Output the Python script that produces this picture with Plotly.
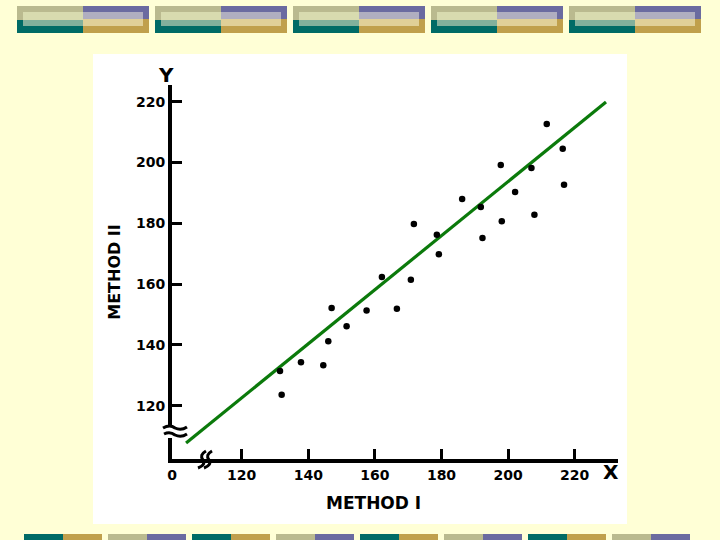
import plotly.graph_objects as go

# Data
method_1 = [132.0, 131.5, 137.8, 144.5, 146.0, 147.0, 151.5, 157.5, 162.1, 166.6, 170.8, 171.7, 179.2,
            178.6, 186.2, 191.8, 192.3, 198.1, 197.8, 202.1, 207.9, 207.0, 211.6, 216.4, 216.8]
method_2 = [123.6, 131.4, 134.3, 133.3, 141.2, 152.1, 146.1, 151.3, 162.3, 151.9, 161.4, 179.8, 169.8,
            176.2, 188.0, 185.4, 175.2, 180.7, 199.2, 190.3, 182.8, 198.2, 212.7, 204.5, 192.7]
fit_x = [103.3, 229.4]
fit_y = [107.7, 219.9]
x_ticks = [99.07, 120, 140, 160, 180, 200, 220]
x_tick_labels = ["0", "120", "140", "160", "180", "200", "220"]
y_ticks = [120, 140, 160, 180, 200, 220]
y_tick_labels = ["120", "140", "160", "180", "200", "220"]

# Plot frame in pixels
L, R, T, B = 172, 618, 85, 459
W, H = 720, 540
BG = "#FFFFD6"
KHAKI, PURPLE, TEAL, TAN = "#BABA8F", "#6B6BA0", "#006B66", "#C0A04C"


def px(x):
    return (x - L) / (R - L)


def py(y):
    return 1 - (y - T) / (B - T)


def rect(x0, y0, x1, y1, color, layer="below"):
    return dict(type="rect", xref="paper", yref="paper", x0=px(x0), x1=px(x1), y0=py(y0), y1=py(y1),
                fillcolor=color, line_width=0, layer=layer)


def curve(points, width=2.5):
    d = f"M {px(points[0][0]):.4f} {py(points[0][1]):.4f}"
    for i in range(1, len(points) - 1, 2):
        d += f" Q {px(points[i][0]):.4f} {py(points[i][1]):.4f} {px(points[i+1][0]):.4f} {py(points[i+1][1]):.4f}"
    return dict(type="path", xref="paper", yref="paper", path=d, line=dict(color="black", width=width),
                layer="above")


def label(text, x, y, size):
    return dict(text=text, xref="paper", yref="paper", x=px(x), y=py(y), showarrow=False,
                xanchor="center", yanchor="middle",
                font=dict(family="DejaVu Sans", size=size, color="black", weight="bold"))


shapes = [rect(93, 54, 627, 524, "#FFFFFF")]

# top banner
for i in range(5):
    o = 138 * i
    shapes += [
        rect(17 + o, 6, 83 + o, 20, KHAKI),
        rect(17 + o, 20, 83 + o, 33, TEAL),
        rect(83 + o, 6, 149 + o, 19, PURPLE),
        rect(83 + o, 19, 149 + o, 33, TAN),
        rect(23 + o, 12, 83 + o, 20, "#D8DBAF"),
        rect(23 + o, 20, 83 + o, 26, "#82B09C"),
        rect(83 + o, 12, 143 + o, 19, "#B0AEC0"),
        rect(83 + o, 19, 143 + o, 26, "#E0D098"),
    ]

# bottom banner
for i in range(8):
    a = 24 + 84 * i
    if i >= 4:
        a = 360 + 84 * (i - 4)
    c1, c2 = (TEAL, TAN) if i % 2 == 0 else (KHAKI, PURPLE)
    shapes += [rect(a, 534, a + 39, 540, c1), rect(a + 39, 534, a + 78, 540, c2)]

# axis breaks
shapes += [
    rect(165, 426, 184, 438, "#FFFFFF", "above"),
    curve([(163, 428), (170, 424), (175, 428), (181, 431), (187, 427)], 3),
    curve([(164, 434), (170, 431), (175, 435), (181, 438), (187, 434)], 3),
    curve([(206, 451), (199, 455), (203, 460), (206, 465), (198, 468)], 3),
    curve([(212, 451), (205, 455), (209, 460), (212, 465), (204, 468)], 3),
]

fig = go.Figure()
fig.add_trace(go.Scatter(x=fit_x, y=fit_y, mode="lines", line=dict(color="#0B7A0B", width=3.2),
                         hoverinfo="skip", showlegend=False))
fig.add_trace(go.Scatter(x=method_1, y=method_2, mode="markers",
                         marker=dict(color="black", size=6.5), showlegend=False))

tick_font = dict(family="DejaVu Sans", size=14, color="black", weight="bold")
fig.update_layout(
    width=W, height=H,
    margin=dict(l=L, r=W - R, t=T, b=H - B, pad=0),
    paper_bgcolor=BG, plot_bgcolor="rgba(0,0,0,0)",
    showlegend=False,
    shapes=shapes,
    annotations=[
        label("Y", 166, 75, 20),
        label("X", 611, 472, 20),
        label("METHOD I", 373, 503, 17),
    ],
    xaxis=dict(range=[99.07, 233.0], tickvals=x_ticks, ticktext=x_tick_labels, ticks="inside",
               ticklen=10, tickwidth=3, tickcolor="black", showline=True, linecolor="black", linewidth=4,
               showgrid=False, zeroline=False, tickfont=tick_font),
    yaxis=dict(range=[102.47, 225.49], tickvals=y_ticks, ticktext=y_tick_labels, ticks="inside",
               ticklen=10, tickwidth=3, tickcolor="black", showline=True, linecolor="black", linewidth=4,
               showgrid=False, zeroline=False, tickfont=tick_font,
               title=dict(text="METHOD II", standoff=12,
                          font=dict(family="DejaVu Sans", size=16, color="black", weight="bold"))),
)
fig.write_html("out.html", config={"displayModeBar": False},
               post_script="document.body.style.margin='0';document.body.style.overflow='hidden';document.documentElement.style.background='#FFFFD6';")
